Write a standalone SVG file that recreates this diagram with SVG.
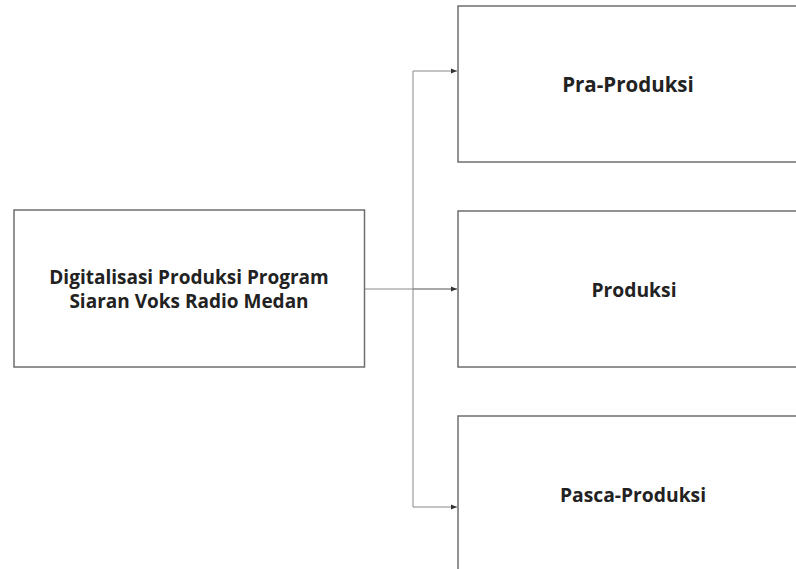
<svg xmlns="http://www.w3.org/2000/svg" width="796" height="569" viewBox="0 0 796 569">
<defs>
<style>
.box{fill:#fff;stroke:#6e6e6e;stroke-width:1.5}
.lbl{font-family:"Open Sans","Liberation Sans",sans-serif;font-weight:700;font-size:19px;fill:#222;text-anchor:middle}
.big{font-size:20.5px}
.mid{font-size:19.3px}
.con{fill:none;stroke:#8a8a8a;stroke-width:1}
</style>
<marker id="arr" viewBox="0 0 10 10" refX="10" refY="5" markerWidth="6" markerHeight="6" orient="auto" markerUnits="userSpaceOnUse">
<path d="M0,1 L10,5 L0,9 z" fill="#333"/>
</marker>
</defs>
<rect width="796" height="569" fill="#fff"/>
<g id="connectors">
<path class="con" d="M365,289 H457"/>
<path class="con" d="M413,71 V507"/>
<path class="con" d="M413,71 H457" marker-end="url(#arr)"/>
<path class="con" d="M413,289 H457" marker-end="url(#arr)"/>
<path class="con" d="M413,507 H457" marker-end="url(#arr)"/>
</g>
<g id="node-main">
<rect class="box" x="14" y="210" width="350.5" height="157"/>
<text class="lbl" x="189" y="284">Digitalisasi Produksi Program</text>
<text class="lbl" x="189" y="308">Siaran Voks Radio Medan</text>
</g>
<g id="node-pra">
<rect class="box" x="458" y="6" width="360" height="156"/>
<text class="lbl big" x="628" y="92">Pra-Produksi</text>
</g>
<g id="node-produksi">
<rect class="box" x="458" y="211" width="360" height="156"/>
<text class="lbl mid" x="634" y="297">Produksi</text>
</g>
<g id="node-pasca">
<rect class="box" x="458" y="416" width="360" height="200"/>
<text class="lbl mid" x="633" y="502">Pasca-Produksi</text>
</g>
</svg>
